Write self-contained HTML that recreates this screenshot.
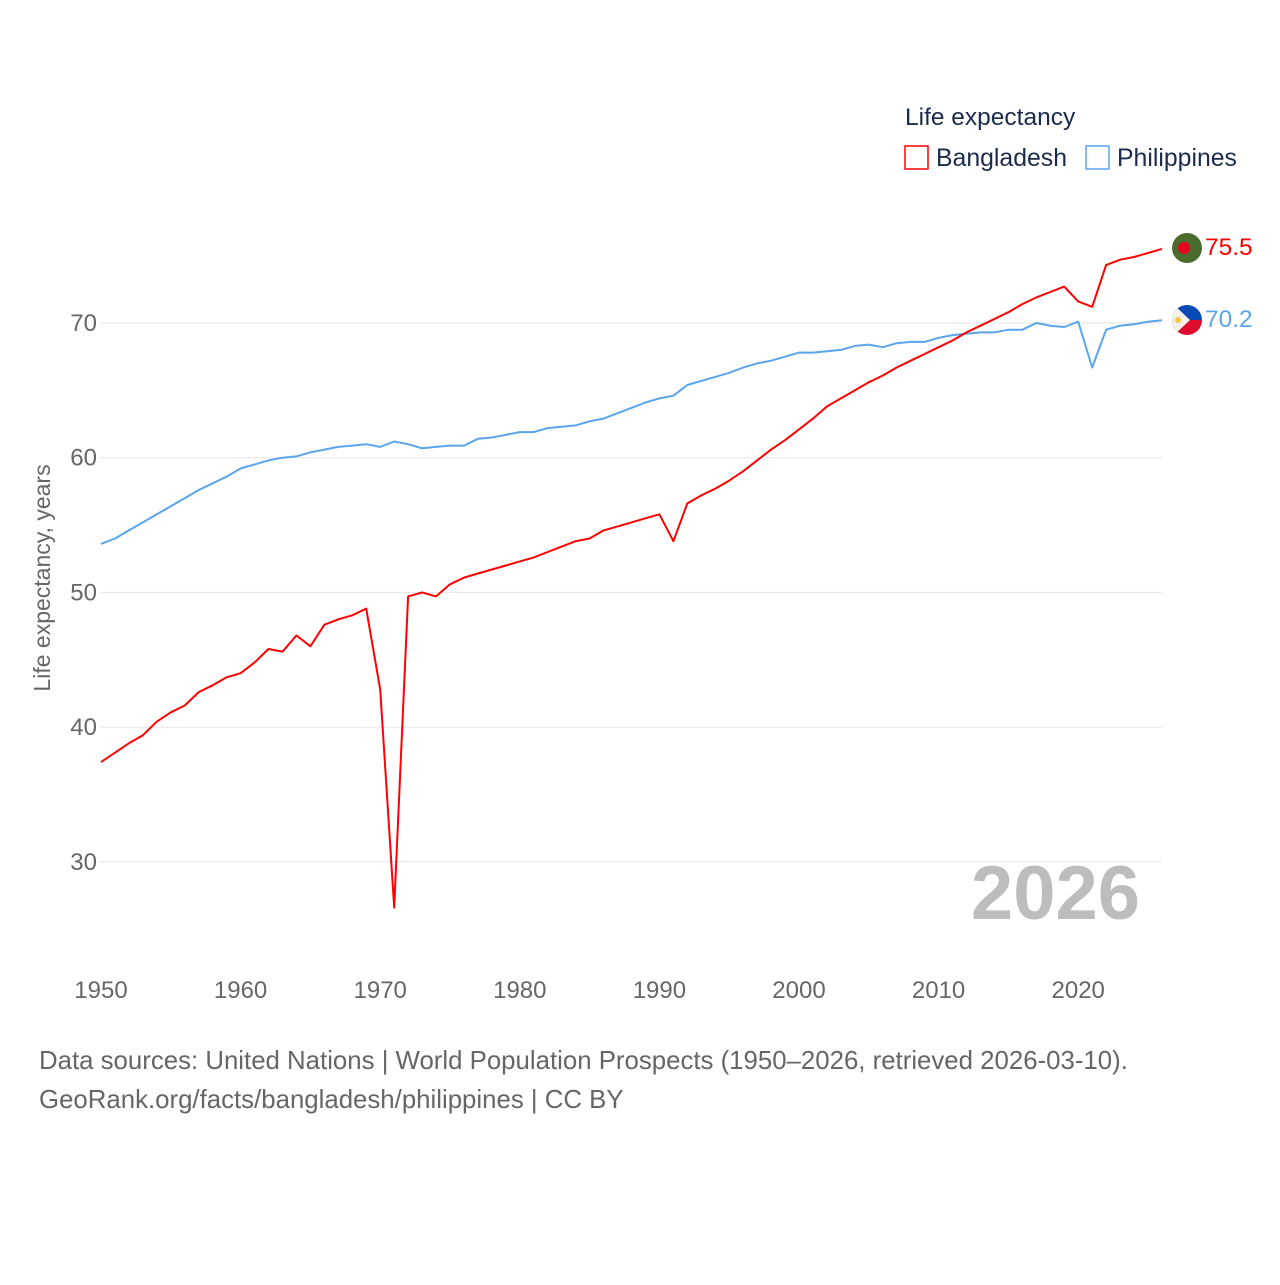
<!DOCTYPE html>
<html><head><meta charset="utf-8"><style>
body{margin:0;background:#fff;}
svg text{font-family:"Liberation Sans",sans-serif;}
</style></head><body>
<svg id="chart" width="1280" height="1280" xmlns="http://www.w3.org/2000/svg">
<text x="905" y="125" font-size="24.5" fill="#1a2b4c">Life expectancy</text>
<g><rect x="905" y="146" width="23" height="23" fill="none" stroke="#f00" stroke-width="1.5"/><text x="936" y="166" font-size="24.8" fill="#1a2b4c">Bangladesh</text></g>
<g><rect x="1086" y="146" width="23" height="23" fill="none" stroke="#5aa5ec" stroke-width="1.5"/><text x="1117" y="166" font-size="24.8" fill="#1a2b4c">Philippines</text></g>
<g id="grid"></g>
<text transform="translate(50,578) rotate(-90)" text-anchor="middle" font-size="23" fill="#666">Life expectancy, years</text>
<text x="1140" y="919" text-anchor="end" font-size="76" font-weight="bold" fill="#bdbdbd">2026</text>
<g id="series"></g>
<g><circle cx="1187" cy="248" r="15" fill="#4a6b2e"/><circle cx="1184" cy="248" r="6" fill="#e4061c"/></g>
<g>
<clipPath id="pc"><circle cx="1187" cy="320" r="15"/></clipPath>
<g clip-path="url(#pc)"><rect x="1170" y="303" width="34" height="17" fill="#0a49b4"/><rect x="1170" y="320" width="34" height="17" fill="#dd0b2e"/><polygon points="1172,303 1190,320 1172,337" fill="#f4f1ea"/><circle cx="1178" cy="320" r="3" fill="#f5c842"/></g></g>
<text x="1205" y="255" font-size="24.5" fill="#f00">75.5</text>
<text x="1205" y="327" font-size="24.5" fill="#5aa5ec">70.2</text>
<text x="39" y="1069" font-size="25.8" fill="#666">Data sources: United Nations | World Population Prospects (1950–2026, retrieved 2026-03-10).</text>
<text x="39" y="1108" font-size="25.8" fill="#666">GeoRank.org/facts/bangladesh/philippines | CC BY</text>
</svg>
<script>
const startYear = 1950;
const bangladesh = [37.4,38.1,38.8,39.4,40.4,41.1,41.6,42.6,43.1,43.7,44.0,44.8,45.8,45.6,46.8,46.0,47.6,48.0,48.3,48.8,42.8,26.6,49.7,50.0,49.7,50.6,51.1,51.4,51.7,52.0,52.3,52.6,53.0,53.4,53.8,54.0,54.6,54.9,55.2,55.5,55.8,53.8,56.6,57.2,57.7,58.3,59.0,59.8,60.6,61.3,62.1,62.9,63.8,64.4,65.0,65.6,66.1,66.7,67.2,67.7,68.2,68.7,69.3,69.8,70.3,70.8,71.4,71.9,72.3,72.7,71.6,71.2,74.3,74.7,74.9,75.2,75.5];
const philippines = [53.6,54.0,54.6,55.2,55.8,56.4,57.0,57.6,58.1,58.6,59.2,59.5,59.8,60.0,60.1,60.4,60.6,60.8,60.9,61.0,60.8,61.2,61.0,60.7,60.8,60.9,60.9,61.4,61.5,61.7,61.9,61.9,62.2,62.3,62.4,62.7,62.9,63.3,63.7,64.1,64.4,64.6,65.4,65.7,66.0,66.3,66.7,67.0,67.2,67.5,67.8,67.8,67.9,68.0,68.3,68.4,68.2,68.5,68.6,68.6,68.9,69.1,69.2,69.3,69.3,69.5,69.5,70.0,69.8,69.7,70.1,66.7,69.5,69.8,69.9,70.1,70.2];
const yTicks = [30,40,50,60,70];
const xTicks = [1950,1960,1970,1980,1990,2000,2010,2020];

const xs = yr => 101 + (yr - 1950) * 13.96;
const ys = v => 323 - (v - 70) * 13.47;
const NS = 'http://www.w3.org/2000/svg';
const grid = document.getElementById('grid');
const series = document.getElementById('series');
function mk(tag, attrs, parent){const e=document.createElementNS(NS,tag);for(const k in attrs)e.setAttribute(k,attrs[k]);parent.appendChild(e);return e;}
yTicks.forEach(v=>{
  const l=mk('line',{x1:100,x2:1162,y1:ys(v),y2:ys(v),stroke:'#e6e6e6','stroke-width':1},grid);
  
  
  const t=mk('text',{x:97,y:ys(v)+8,'text-anchor':'end','font-size':24,fill:'#666'},grid);
  t.textContent=v;
  
  
});
xTicks.forEach(v=>{
  const t=mk('text',{x:xs(v),y:998,'text-anchor':'middle','font-size':24,fill:'#666'},grid);
  t.textContent=v;
  
  
});
function line(arr,color,name){
  const d=arr.map((v,i)=>(i?'L':'M')+xs(startYear+i).toFixed(1)+','+ys(v).toFixed(1)).join(' ');
  const p=mk('path',{d:d,fill:'none',stroke:color,'stroke-width':2,'stroke-linejoin':'round'},series);
  
  
}
line(philippines,'#5aa5ec','philippines-line');
line(bangladesh,'#f00','bangladesh-line');
</script>
</body></html>
